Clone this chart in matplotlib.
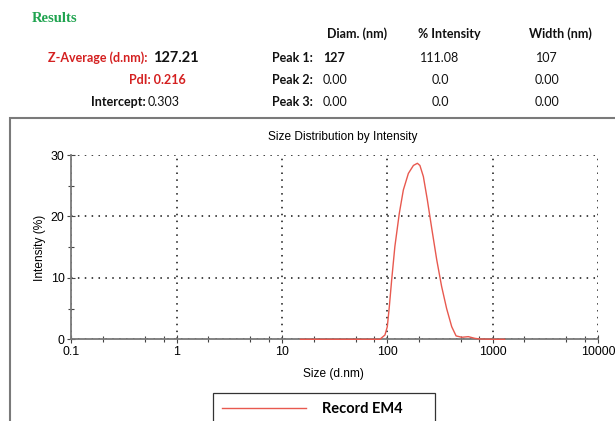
import matplotlib
matplotlib.use("Agg")
import matplotlib.pyplot as plt
from matplotlib.patches import Rectangle
from matplotlib.ticker import FixedLocator, LogLocator, NullFormatter, FixedFormatter

# ---- data ----
size_nm = [15, 30, 60, 85, 95, 100, 104.5, 110, 118, 130, 142, 158.5, 177, 193,
           204, 220, 240, 264, 295, 328, 366, 409, 450, 510, 588, 680, 760, 1000, 1300]
intensity = [0, 0, 0, 0, 0.7, 2.05, 5.3, 9.65, 15.1, 20.5, 24.3, 27.0, 28.3, 28.65,
             28.3, 26.5, 22.7, 18.1, 12.9, 8.6, 5.0, 2.05, 0.55, 0.33, 0.43, 0.15, 0.05, 0, 0]
series_label = "Record EM4"

x_ticks = [0.1, 1, 10, 100, 1000, 10000]
x_tick_labels = ["0.1", "1", "10", "100", "1000", "10000"]
y_ticks = [0, 10, 20, 30]

header_cols = ["Diam. (nm)", "% Intensity", "Width (nm)"]
peak_labels = ["Peak 1:", "Peak 2:", "Peak 3:"]
peak_diam = ["127", "0.00", "0.00"]
peak_int = ["111.08", "0.0", "0.0"]
peak_width = ["107", "0.00", "0.00"]
z_average = "127.21"
pdi = "0.216"
intercept = "0.303"

W, H = 615, 421
fig = plt.figure(figsize=(W / 100, H / 100), dpi=100)

def P(x, y):
    return (x / W, 1 - y / H)

chart_font = "Liberation Sans"
table_font = "Lato"
TS = 9.0
CS = 8.6

# ---- header / results table ----
fig.text(*P(32, 18), "Results", family="Liberation Serif", weight="bold",
         color="#1fa34f", fontsize=10.5, va="center", ha="left")

for txt, xc in zip(header_cols, [357, 449, 560]):
    fig.text(*P(xc, 34), txt, family=table_font, weight="bold", fontsize=TS,
             ha="center", va="center", color="#111111")

rows_y = [58, 80, 102]
for i, y in enumerate(rows_y):
    fig.text(*P(313, y), peak_labels[i], family=table_font, weight="bold",
             fontsize=TS, ha="right", va="center", color="#111111")
    fig.text(*P(323, y), peak_diam[i], family=table_font,
             weight="bold" if i == 0 else "normal",
             fontsize=TS, ha="left", va="center", color="#111111")
    fig.text(*P(440, y), peak_int[i], family=table_font, fontsize=TS,
             ha="center", va="center", color="#111111")
    fig.text(*P(547, y), peak_width[i], family=table_font, fontsize=TS,
             ha="center", va="center", color="#111111")

fig.text(*P(148, 58), "Z-Average (d.nm):", family=table_font, weight="bold",
         fontsize=TS, ha="right", va="center", color="#d42020")
fig.text(*P(153, 57.5), z_average, family=table_font, weight="bold",
         fontsize=10.5, ha="left", va="center", color="#111111")
fig.text(*P(186, 80), "PdI: " + pdi, family=table_font, weight="bold",
         fontsize=TS, ha="right", va="center", color="#d42020")
fig.text(*P(146, 102), "Intercept:", family=table_font, weight="bold",
         fontsize=TS, ha="right", va="center", color="#111111")
fig.text(*P(148, 102), intercept, family=table_font,
         fontsize=TS, ha="left", va="center", color="#111111")

# ---- outer chart frame ----
fig.patches.append(Rectangle(P(10, 440), (W + 20) / W, (440 - 118) / H,
                             transform=fig.transFigure, fill=False,
                             edgecolor="#7a7a7a", linewidth=1.5))

# ---- axes ----
x0, x1 = 71.4, 597.9
y0, y1 = 339.3, 155.0
ax = fig.add_axes([x0 / W, 1 - y0 / H, (x1 - x0) / W, (y0 - y1) / H])
ax.set_facecolor("none")
line, = ax.plot(size_nm, intensity, color="#e8594f", linewidth=1.0,
                label=series_label, zorder=3, clip_on=False)
ax.set_xscale("log")
ax.set_xlim(0.1, 10000)
ax.set_ylim(0, 30)

for s in ["top", "right"]:
    ax.spines[s].set_visible(False)
for s in ["left", "bottom"]:
    ax.spines[s].set_color("#7a7a7a")
    ax.spines[s].set_linewidth(1.3)

ax.xaxis.set_major_locator(FixedLocator(x_ticks))
ax.xaxis.set_major_formatter(FixedFormatter(x_tick_labels))
ax.xaxis.set_minor_locator(LogLocator(base=10, subs=[2, 5, 7.5]))
ax.xaxis.set_minor_formatter(NullFormatter())
ax.yaxis.set_major_locator(FixedLocator(y_ticks))
ax.yaxis.set_minor_locator(FixedLocator([5, 15, 25]))

ax.tick_params(which="both", direction="inout", color="#444444", width=0.8)
ax.tick_params(which="major", length=6, labelsize=CS + 0.3, pad=2)
ax.tick_params(which="minor", length=5)
for lab in ax.get_xticklabels() + ax.get_yticklabels():
    lab.set_family(chart_font)

ax.grid(True, which="major", linestyle=(0, (1, 3.5)), color="#111111", linewidth=1.1)

fig.text(*P(343, 137), "Size Distribution by Intensity", family=chart_font,
         fontsize=CS, ha="center", va="center")
fig.text(*P(333, 374), "Size (d.nm)", family=chart_font,
         fontsize=CS, ha="center", va="center")
fig.text(*P(40, 248), "Intensity (%)", family=chart_font,
         fontsize=CS, ha="center", va="center", rotation=90)

# ---- legend ----
fig.patches.append(Rectangle(P(213, 430), (435 - 213) / W, (430 - 393) / H,
                             transform=fig.transFigure, fill=False,
                             edgecolor="#333333", linewidth=0.9))
leg = ax.legend(handles=[line], loc="upper left",
                bbox_to_anchor=P(213, 393), bbox_transform=fig.transFigure,
                frameon=False, handlelength=5.75,
                handletextpad=1.1, borderpad=0.65, borderaxespad=0,
                prop={"family": table_font, "weight": "bold", "size": 10.5})

fig.savefig("out.png", dpi=100)
